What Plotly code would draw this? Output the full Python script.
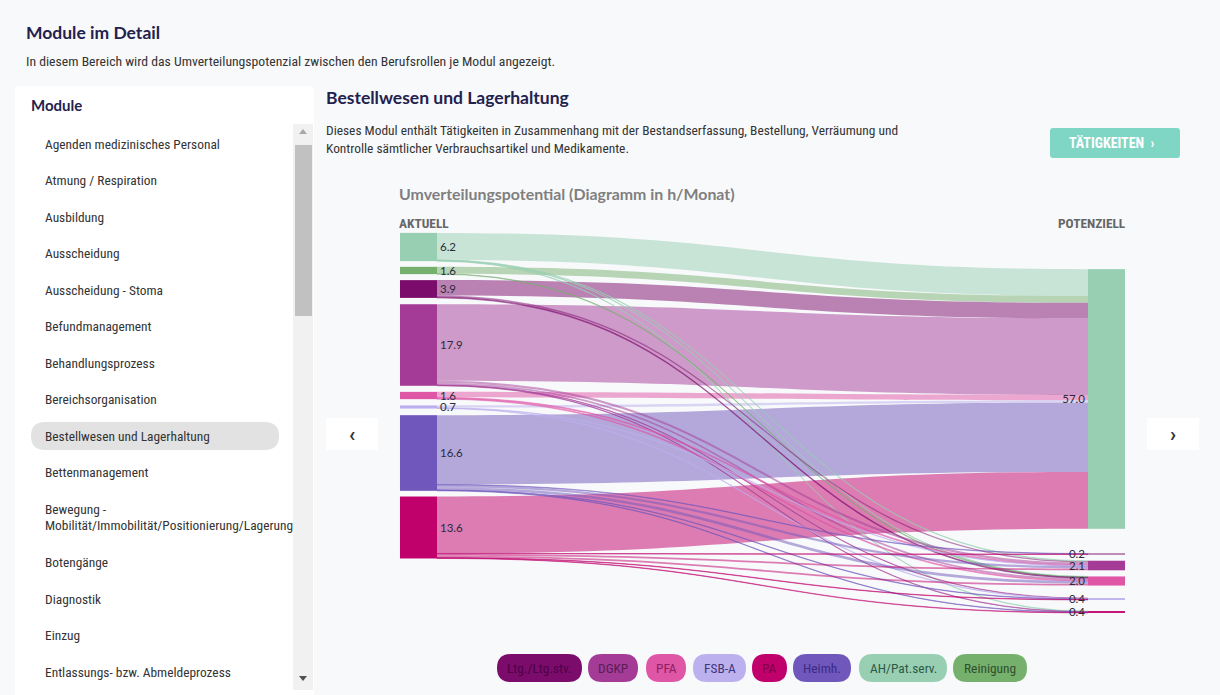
import plotly.graph_objects as go

W, H = 1220, 695

# ---------------- data ----------------
roles = ["AH/Pat.serv.", "Reinigung", "Ltg./Ltg.stv.", "DGKP", "PFA", "FSB-A", "Heimh.", "PA"]
role_colors = ["#98cfb2", "#76b06d", "#7b0c6c", "#a43c97", "#e056a7", "#bcb0ee", "#6f57bb", "#c0006b"]
aktuell_values = [6.2, 1.6, 3.9, 17.9, 1.6, 0.7, 16.6, 13.6]

potenziell_nodes = ["Umverteilbar", "Ltg./Ltg.stv.", "DGKP", "PFA", "FSB-A", "PA"]
potenziell_colors = ["#98cfb2", "#7b0c6c", "#a43c97", "#e056a7", "#bcb0ee", "#c0006b"]
potenziell_values = [57.0, 0.2, 2.1, 2.0, 0.4, 0.4]

# flows: source = index in roles, target = index in potenziell_nodes
flow_source = [0, 1, 2, 3, 4, 5, 6, 7,
               0, 0, 0,
               1,
               2, 2,
               3, 3, 3, 3,
               4, 4,
               5, 5,
               6, 6, 6, 6, 6,
               7, 7, 7, 7, 7]
flow_target = [0, 0, 0, 0, 0, 0, 0, 0,
               2, 3, 5,
               3,
               2, 3,
               2, 3, 4, 5,
               2, 3,
               2, 4,
               1, 2, 3, 4, 5,
               1, 2, 3, 4, 5]
flow_value = [5.9, 1.5, 3.4, 16.8, 1.2, 0.5, 15.2, 12.5,
              0.1, 0.1, 0.1,
              0.1,
              0.3, 0.2,
              0.5, 0.4, 0.1, 0.1,
              0.2, 0.2,
              0.1, 0.1,
              0.1, 0.5, 0.6, 0.1, 0.1,
              0.1, 0.4, 0.4, 0.1, 0.1]

module_names = ["Agenden medizinisches Personal", "Atmung / Respiration", "Ausbildung",
                "Ausscheidung", "Ausscheidung - Stoma", "Befundmanagement",
                "Behandlungsprozess", "Bereichsorganisation", "Bestellwesen und Lagerhaltung",
                "Bettenmanagement", "Bewegung -<br>Mobilität/Immobilität/Positionierung/Lagerung",
                "Botengänge", "Diagnostik", "Einzug", "Entlassungs- bzw. Abmeldeprozess"]
selected_module = 8

legend_text_colors = ["#2e5a46", "#2f4f2c", "#4e0045", "#5b1d55", "#8e1f62", "#40367a", "#3b2b85", "#7d0046"]
legend_order = [2, 3, 4, 5, 7, 6, 0, 1]

# ---------------- helpers ----------------
def px(x):
    return x / W

def py(y):
    return 1 - y / H

def rgba(hexc, a):
    hexc = hexc.lstrip("#")
    r, g, b = int(hexc[0:2], 16), int(hexc[2:4], 16), int(hexc[4:6], 16)
    return f"rgba({r},{g},{b},{a})"

def rrect_path(x0, y0, x1, y1, r):
    pts = [
        ("M", (x0 + r, y0)), ("L", (x1 - r, y0)), ("Q", (x1, y0, x1, y0 + r)),
        ("L", (x1, y1 - r)), ("Q", (x1, y1, x1 - r, y1)), ("L", (x0 + r, y1)),
        ("Q", (x0, y1, x0, y1 - r)), ("L", (x0, y0 + r)), ("Q", (x0, y0, x0 + r, y0)),
    ]
    s = ""
    for cmd, c in pts:
        if cmd == "Q":
            s += f"Q{px(c[0]):.5f},{py(c[1]):.5f} {px(c[2]):.5f},{py(c[3]):.5f} "
        else:
            s += f"{cmd}{px(c[0]):.5f},{py(c[1]):.5f} "
    return s + "Z"

shapes = []
annotations = []

def rect(x0, y0, x1, y1, fill, r=0, line=None):
    if r:
        shapes.append(dict(type="path", xref="paper", yref="paper", path=rrect_path(x0, y0, x1, y1, r),
                           fillcolor=fill, line=dict(width=0 if line is None else 1, color=line or fill),
                           layer="below"))
    else:
        shapes.append(dict(type="rect", xref="paper", yref="paper", x0=px(x0), x1=px(x1), y0=py(y1), y1=py(y0),
                           fillcolor=fill, line=dict(width=0 if line is None else 1, color=line or fill),
                           layer="below"))

def text(x, y, s, size, color, family="Roboto", anchor="left"):
    dx = -2 if anchor == "left" else (2 if anchor == "right" else 0)
    annotations.append(dict(x=px(x + dx), y=py(y), xref="paper", yref="paper", text=s, showarrow=False,
                            xanchor=anchor, yanchor="middle", font=dict(size=size, color=color, family=family),
                            align="left"))

HEAD = "Lato"
BODY = "Roboto Condensed, Liberation Sans Narrow, Roboto"
NAVY = "#23214d"

# page headings
text(26, 33, "<b>Module im Detail</b>", 17.5, NAVY, HEAD)
text(26, 61, "In diesem Bereich wird das Umverteilungspotenzial zwischen den Berufsrollen je Modul angezeigt.",
     13.7, "#333333", BODY)

# left panel
rect(15, 86, 314, 700, "#ffffff", r=4)
text(31, 105, "<b>Module</b>", 15, NAVY, HEAD)
rect(293, 124, 313, 690, "#f1f1f1")
rect(295, 145, 312, 316, "#c1c1c1")
shapes.append(dict(type="path", xref="paper", yref="paper",
                   path=f"M{px(299)},{py(134)} L{px(307)},{py(134)} L{px(303)},{py(129)} Z",
                   fillcolor="#a8a8a8", line=dict(width=0), layer="below"))
shapes.append(dict(type="path", xref="paper", yref="paper",
                   path=f"M{px(299)},{py(676)} L{px(307)},{py(676)} L{px(303)},{py(681)} Z",
                   fillcolor="#505050", line=dict(width=0), layer="below"))

for i, name in enumerate(module_names):
    y = 144 + 36.5 * i + (17 if i > 10 else 0)
    if i == selected_module:
        rect(31, y - 14, 279, y + 14, "#e2e2e2", r=14)
    if "<br>" in name:
        l1, l2 = name.split("<br>")
        text(45, y, l1, 13.4, "#333333", BODY)
        text(45, y + 16, l2, 13.4, "#333333", BODY)
    else:
        text(45, y, name, 13.4, "#333333", BODY)

# right content header
text(326, 97, "<b>Bestellwesen und Lagerhaltung</b>", 17.5, NAVY, HEAD)
text(326, 131, "Dieses Modul enthält Tätigkeiten in Zusammenhang mit der Bestandserfassung, Bestellung, Verräumung und",
     13.4, "#333333", BODY)
text(326, 149, "Kontrolle sämtlicher Verbrauchsartikel und Medikamente.", 13.4, "#333333", BODY)
rect(1050, 128, 1180, 158, "#7fd6c4", r=3)
text(1112, 143, "<b>TÄTIGKEITEN  ›</b>", 14, "#ffffff", BODY, anchor="center")

# chart title and column headers
text(399, 193, "<b>Umverteilungspotential (Diagramm in h/Monat)</b>", 15.9, "#7f7f7f", HEAD)
text(399, 224, "<b>AKTUELL</b>", 13.4, "#666666", BODY)
text(1126, 224, "<b>POTENZIELL</b>", 13.4, "#666666", BODY, anchor="right")

# nav buttons
rect(326, 418, 378, 450, "#ffffff")
text(352, 434, "<b>‹</b>", 20, "#333333", "Roboto", anchor="center")
rect(1147, 418, 1199, 450, "#ffffff")
text(1173, 434, "<b>›</b>", 20, "#333333", "Roboto", anchor="center")

# legend pills
pill_x = [(497, 582), (588, 638), (646, 686), (693, 746), (752, 787), (793, 851), (859, 947), (953, 1027)]
for (x0, x1), ri in zip(pill_x, legend_order):
    rect(x0, 654, x1, 682, role_colors[ri], r=14)
    text((x0 + x1) / 2, 668, roles[ri], 13.4, legend_text_colors[ri], BODY, anchor="center")

# ---------------- sankey ----------------
n_left = len(roles)
labels = [f"{v:.1f}" for v in aktuell_values] + [f"{v:.1f}" for v in potenziell_values]
node_colors = role_colors + potenziell_colors
node_x = [0.0255] * n_left + [0.9745] * len(potenziell_nodes)
node_y = [0.0436, 0.1038, 0.1513, 0.2949, 0.4244, 0.4538, 0.5718, 0.7628,
          0.4333, 0.8308, 0.8603, 0.9000, 0.9462, 0.9795]
link_colors = [rgba(role_colors[s], 0.5) for s in flow_source]

sankey = go.Sankey(
    arrangement="fixed",
    domain=dict(x=[px(400), px(1125)], y=[py(620), py(230)]),
    node=dict(label=labels, color=node_colors, x=node_x, y=node_y, pad=15.3, thickness=37,
              line=dict(width=0)),
    link=dict(source=flow_source, target=[t + n_left for t in flow_target], value=flow_value,
              color=link_colors),
    textfont=dict(family="Lato", size=11.5, color="#2a2a3a", shadow="none"),
    hoverinfo="skip",
)

fig = go.Figure(sankey)
fig.update_layout(width=W, height=H, margin=dict(l=0, r=0, t=0, b=0),
                  paper_bgcolor="#f8f9fb", plot_bgcolor="#f8f9fb",
                  shapes=shapes, annotations=annotations, showlegend=False)

fig.write_html("out.html", config={"displayModeBar": False},
               post_script="document.body.style.margin='0';document.body.style.overflow='hidden';")
